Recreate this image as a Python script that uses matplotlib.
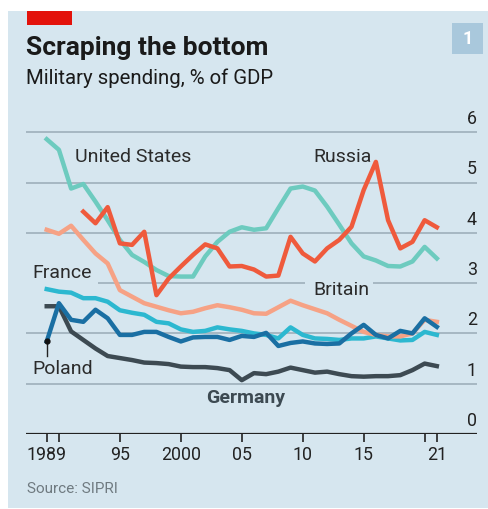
import matplotlib
matplotlib.use("Agg")
import matplotlib.pyplot as plt
from matplotlib.patches import Rectangle

plt.rcParams['font.family'] = ['Roboto', 'DejaVu Sans']

years = list(range(1989, 2022))
usa = [5.86, 5.65, 4.88, 4.97, 4.62, 4.25, 3.86, 3.56, 3.42, 3.26, 3.14, 3.13, 3.13,
       3.53, 3.82, 4.02, 4.11, 4.06, 4.09, 4.49, 4.88, 4.92, 4.84, 4.52, 4.16, 3.79,
       3.53, 3.45, 3.34, 3.33, 3.43, 3.72, 3.49]
russia_years = list(range(1992, 2022))
russia = [4.42, 4.19, 4.51, 3.79, 3.76, 4.02, 2.76, 3.09, 3.33, 3.56, 3.77, 3.69, 3.33,
          3.34, 3.27, 3.13, 3.15, 3.92, 3.59, 3.43, 3.69, 3.86, 4.12, 4.85, 5.41, 4.25,
          3.69, 3.82, 4.25, 4.11]
britain = [4.06, 3.98, 4.14, 3.86, 3.59, 3.39, 2.86, 2.73, 2.60, 2.53, 2.46, 2.40, 2.43,
           2.50, 2.56, 2.52, 2.47, 2.40, 2.39, 2.52, 2.65, 2.56, 2.48, 2.40, 2.27, 2.15,
           2.03, 1.97, 1.94, 1.94, 2.00, 2.27, 2.23]
france = [2.88, 2.83, 2.81, 2.70, 2.70, 2.63, 2.46, 2.41, 2.37, 2.23, 2.20, 2.08, 2.03,
          2.05, 2.12, 2.08, 2.05, 2.00, 1.97, 1.90, 2.12, 1.97, 1.90, 1.89, 1.87, 1.90,
          1.90, 1.94, 1.90, 1.86, 1.87, 2.03, 1.97]
poland = [1.84, 2.60, 2.27, 2.23, 2.47, 2.30, 1.97, 1.97, 2.03, 2.03, 1.93, 1.84, 1.92,
          1.93, 1.93, 1.87, 1.95, 1.93, 2.01, 1.75, 1.81, 1.84, 1.80, 1.79, 1.80, 2.00,
          2.17, 1.97, 1.90, 2.05, 2.00, 2.30, 2.13]
germany = [2.54, 2.54, 2.04, 1.87, 1.70, 1.55, 1.51, 1.47, 1.42, 1.41, 1.39, 1.34, 1.33,
           1.33, 1.31, 1.27, 1.07, 1.21, 1.19, 1.24, 1.32, 1.27, 1.22, 1.24, 1.19, 1.15,
           1.14, 1.15, 1.15, 1.17, 1.27, 1.40, 1.35]

xticks = [1989, 1990, 1995, 2000, 2005, 2010, 2015, 2020, 2021]
xticklabels = ['1989', '', '95', '2000', '05', '10', '15', '', '21']
yticks = [0, 1, 2, 3, 4, 5, 6]

W, H = 489, 509
BG = '#d6e6ef'
GRID = '#a3b4bf'
fig = plt.figure(figsize=(W / 100, H / 100), dpi=100)
fig.patch.set_facecolor('white')

def fx(px):
    return px / W

def fy(py):
    return 1 - py / H

# background panel
fig.patches.append(Rectangle((fx(8), fy(508)), fx(480), 497 / H, transform=fig.transFigure,
                             facecolor=BG, edgecolor='none', zorder=-10))
# red tag
fig.patches.append(Rectangle((fx(27), fy(25)), fx(45), 14 / H, transform=fig.transFigure,
                             facecolor='#e3120b', edgecolor='none', zorder=-5))
# badge
fig.patches.append(Rectangle((fx(452), fy(54)), fx(31), 31 / H, transform=fig.transFigure,
                             facecolor='#a9c8dc', edgecolor='none', zorder=-5))
fig.text(fx(467.5), fy(38.5), '1', color='white', fontsize=13, fontweight='bold',
         ha='center', va='center')

fig.text(fx(26), fy(48), 'Scraping the bottom', fontsize=19, fontweight='bold',
         color='#1a1a1a', ha='left', va='center')
fig.text(fx(26), fy(78), 'Military spending, % of GDP', fontsize=14.7,
         color='#1a1a1a', ha='left', va='center')
fig.text(fx(27), fy(489), 'Source: SIPRI', fontsize=11, color='#6f7a80',
         ha='left', va='center')

left, right, top, bottom = 26, 476.7, 110, 434
ax = fig.add_axes([fx(left), fy(bottom), fx(right - left), (bottom - top) / H])
ax.set_facecolor('none')
ax.set_xlim(1987.30, 2024.27)
ax.set_ylim(0, (bottom - top) / 50.3)
for s in ax.spines.values():
    s.set_visible(False)

# gridlines
def hline(y, x0, x1):
    ax.plot([x0, x1], [y, y], color=GRID, lw=1.3, zorder=1, solid_capstyle='butt')

xl = ax.get_xlim()
def px2yr(px):
    return xl[0] + (px - left) / (right - left) * (xl[1] - xl[0])

for y in [1, 2, 4, 5, 6]:
    hline(y, xl[0], xl[1])
hline(3, px2yr(98), px2yr(305))
hline(3, px2yr(373), xl[1])
ax.plot([xl[0], xl[1]], [0, 0], color='#222222', lw=1.6, zorder=5, solid_capstyle='butt')

for y in yticks:
    ax.text(xl[1], y + 0.08, str(y), ha='right', va='bottom', fontsize=12.8, color='#222222')

ax.set_xticks(xticks)
ax.set_xticklabels(xticklabels, fontsize=12.8, color='#222222')
ax.tick_params(axis='x', length=6, width=1.2, color='#222222', pad=3)
ax.set_yticks([])

lw = 3.2
ax.plot(years, germany, color='#3d4a52', lw=lw, zorder=3, solid_joinstyle='round')
ax.plot(years, poland, color='#1a6fa3', lw=lw, zorder=4, solid_joinstyle='round')
ax.plot(years, france, color='#2cb8d0', lw=lw, zorder=3, solid_joinstyle='round')
ax.plot(years, britain, color='#f6a285', lw=lw, zorder=3, solid_joinstyle='round')
ax.plot(years, usa, color='#6dcbbf', lw=lw, zorder=3, solid_joinstyle='round')
ax.plot(russia_years, russia, color='#ef5a3c', lw=lw, zorder=4, solid_joinstyle='round')

# Poland start marker and leader
ax.plot([years[0], years[0]], [poland[0], 1.55], color='#222222', lw=1, zorder=5)
ax.plot([years[0]], [poland[0]], 'o', color='#111111', ms=3.5, zorder=6)

lab = dict(fontsize=14, color='#2b2b2b', va='center', ha='left')
ax.text(px2yr(75), (434 - 157) / 50.3, 'United States', **lab)
ax.text(px2yr(313), (434 - 157) / 50.3, 'Russia', **lab)
ax.text(px2yr(313), (434 - 290) / 50.3, 'Britain', **lab)
ax.text(px2yr(32), (434 - 273) / 50.3, 'France', **lab)
ax.text(px2yr(32), (434 - 369) / 50.3, 'Poland', **lab)
ax.text(px2yr(206), (434 - 398) / 50.3, 'Germany', fontsize=14, fontweight='bold',
        color='#3d4a52', va='center', ha='left')

fig.savefig('out.png', dpi=100, facecolor='white')
